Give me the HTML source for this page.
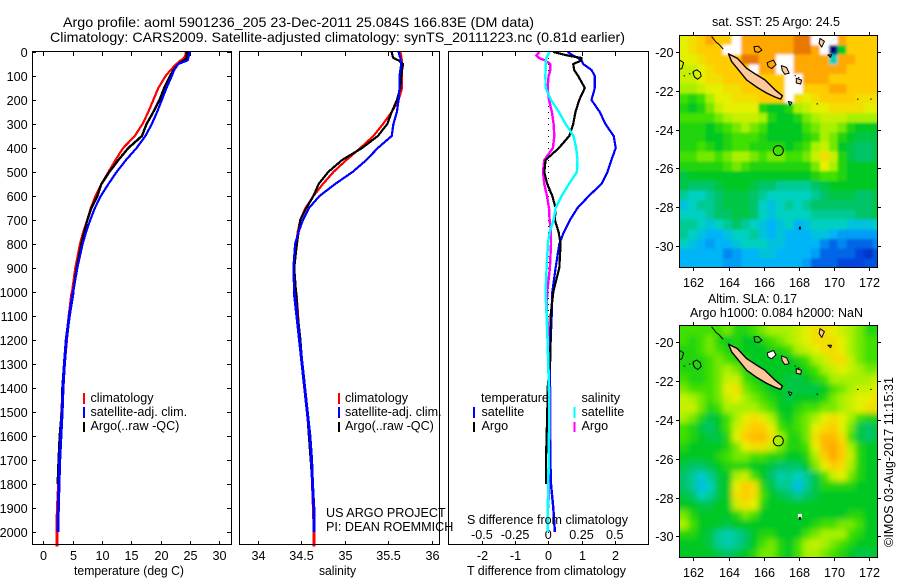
<!DOCTYPE html>
<html lang="en">
<head>
<meta charset="utf-8">
<title>Argo profile 5901236_205</title>
<style>
html,body{margin:0;padding:0;background:#fff;width:900px;height:580px;overflow:hidden}
svg{display:block;position:absolute;left:0;top:0}
text{font-family:"Liberation Sans",Arial,sans-serif;font-size:12.6px;fill:#000}
.title{font-size:14px}
.frame{fill:none;stroke:#000;stroke-width:1;shape-rendering:crispEdges}
.tick{stroke:#000;stroke-width:1;shape-rendering:crispEdges}
.prof{fill:none;stroke-linejoin:round;shape-rendering:crispEdges}
</style>
</head>
<body>
<svg id="chart" width="900" height="580" viewBox="0 0 900 580" xmlns="http://www.w3.org/2000/svg">
  <defs>
    <clipPath id="clip-sst"><rect x="679.5" y="35.5" width="198" height="232"/></clipPath>
    <clipPath id="clip-sla"><rect x="679.5" y="325.5" width="198" height="232"/></clipPath>
    <filter id="blur-sst" x="-10%" y="-10%" width="120%" height="120%"><feGaussianBlur stdDeviation="1.3"/></filter>
    <filter id="blur-sla" x="-10%" y="-10%" width="120%" height="120%"><feGaussianBlur stdDeviation="3"/></filter>
  </defs>
  <text class="title" x="63" y="27" textLength="471" lengthAdjust="spacingAndGlyphs">Argo profile: aoml 5901236_205 23-Dec-2011 25.084S 166.83E (DM data)</text>
  <text class="title" x="50" y="42" textLength="575" lengthAdjust="spacingAndGlyphs">Climatology: CARS2009. Satellite-adjusted climatology: synTS_20111223.nc (0.81d earlier)</text>

  <g id="panel-t"></g>
  <g id="panel-s"></g>
  <g id="panel-d"></g>

  <text x="74" y="575" textLength="110" lengthAdjust="spacingAndGlyphs">temperature (deg C)</text>
  <text x="319" y="575" textLength="37" lengthAdjust="spacingAndGlyphs">salinity</text>
  <text x="467" y="575" textLength="159" lengthAdjust="spacingAndGlyphs">T difference from climatology</text>
  <text x="467" y="524" textLength="161" lengthAdjust="spacingAndGlyphs">S difference from climatology</text>
  <text x="326" y="517">US ARGO PROJECT</text>
  <text x="326" y="531">PI: DEAN ROEMMICH</text>

  <g>
    <rect x="83" y="393" width="2" height="11" fill="#f00"/>
    <rect x="83" y="407" width="2" height="11" fill="#00f"/>
    <rect x="83" y="422" width="2" height="10" fill="#000"/>
    <text x="90.5" y="402">climatology</text>
    <text x="90.5" y="416">satellite-adj. clim.</text>
    <text x="90.5" y="430">Argo(..raw -QC)</text>
  </g>
  <g>
    <rect x="338" y="393" width="2" height="11" fill="#f00"/>
    <rect x="338" y="407" width="2" height="11" fill="#00f"/>
    <rect x="338" y="422" width="2" height="10" fill="#000"/>
    <text x="345" y="402">climatology</text>
    <text x="345" y="416">satellite-adj. clim.</text>
    <text x="345" y="430">Argo(..raw -QC)</text>
  </g>
  <g>
    <text x="481" y="402">temperature</text>
    <text x="481.5" y="416">satellite</text>
    <text x="481.5" y="430">Argo</text>
    <text x="581.5" y="402">salinity</text>
    <text x="581.5" y="416">satellite</text>
    <text x="581.5" y="430">Argo</text>
    <rect x="473" y="407" width="2" height="11" fill="#00f"/>
    <rect x="473" y="422" width="2" height="10" fill="#000"/>
    <rect x="573.5" y="407" width="2" height="11" fill="#0ff"/>
    <rect x="573.5" y="422" width="2" height="10" fill="#f0f"/>
  </g>

  <g id="map-sst"></g>
  <g id="map-sla"></g>

  <text x="712" y="26" textLength="128" lengthAdjust="spacingAndGlyphs">sat. SST: 25 Argo: 24.5</text>
  <text x="708" y="303" textLength="89" lengthAdjust="spacingAndGlyphs">Altim. SLA: 0.17</text>
  <text x="690" y="317" textLength="173" lengthAdjust="spacingAndGlyphs">Argo h1000: 0.084 h2000: NaN</text>
  <text transform="translate(893,547) rotate(-90)" textLength="170" lengthAdjust="spacingAndGlyphs">©IMOS 03-Aug-2017 11:15:31</text>
</svg>

<script>
// ---------- profile data ----------
const depths = [0,15,25,35,50,75,100,150,200,250,300,350,400,450,500,550,600,650,700,750,800,900,1000,1100,1200,1300,1400,1500,1600,1700,1800,1900,2000,2060];
const tempClim = [24.3,24.2,24,23.4,22.7,21.7,20.85,19.6,18.75,17.9,16.9,15.6,13.6,12.3,11.1,9.9,8.9,8.1,7.5,6.8,6.25,5.45,4.9,4.4,3.95,3.6,3.35,3.15,2.95,2.75,2.6,2.4,2.3,2.3];
const tempSat = [24.9,24.8,24.7,24.6,23,22.3,21.9,21,20.2,19.4,18.5,17.4,15.9,14.1,12.5,11.1,9.8,8.8,8,7.3,6.7,5.8,5.1,4.43,3.9,3.6,3.35,3.2,3,2.8,2.67,2.55,2.5,null];
const tempArgo = [24.5,24.45,24.4,24,23,22.2,21.6,20.6,19.8,18.75,17.6,16.8,14.5,12.8,11.25,9.9,9.2,8.2,7.5,7,6.5,5.7,5.1,4.45,3.95,3.55,3.25,3.15,2.8,2.6,2.45,null,null,null];
const salClim = [35.64,35.65,35.65,35.66,35.66,35.66,35.66,35.66,35.62,35.54,35.44,35.33,35.18,35.02,34.87,34.75,34.64,34.55,34.49,34.46,34.44,34.42,34.44,34.46,34.48,34.51,34.54,34.57,34.6,34.62,34.63,34.64,34.65,34.65];
const salSat = [35.62,35.63,35.64,35.64,35.65,35.64,35.63,35.63,35.62,35.6,35.56,35.54,35.38,35.25,35.09,34.89,34.71,34.59,34.52,34.47,34.43,34.41,34.42,34.45,34.48,34.51,34.54,34.57,34.6,34.62,34.63,34.645,34.65,null];
const salArgo = [35.54,35.55,35.56,35.62,35.67,35.66,35.65,35.64,35.6,35.54,35.49,35.38,35.2,34.97,34.81,34.7,34.64,34.56,34.49,34.47,34.45,34.42,34.44,34.46,34.49,34.51,34.54,34.57,34.59,34.61,34.63,null,null,null];
const diffTSat = [0.58,0.75,0.9,1,1.05,1.3,1.4,1.4,1.3,1.55,1.72,1.97,2.03,1.9,1.78,1.6,1.22,0.88,0.65,0.47,0.33,0.22,0.12,0.1,0.07,0.05,0.05,0.05,0.05,0.06,0.08,0.15,0.2,null];
const diffTArgo = [0.15,0.6,1,1,0.75,0.78,0.9,1.1,0.93,0.82,0.75,0.63,0.32,-0.08,-0.12,-0.03,0.12,0.22,0.2,0.31,0.37,0.33,0.15,0.07,0.07,0.05,-0.02,-0.03,-0.05,-0.07,-0.07,null,null,null];
const diffSSat = [0.008,-0.005,-0.015,-0.018,-0.02,-0.02,-0.022,-0.02,0.02,0.08,0.13,0.19,0.21,0.22,0.215,0.155,0.1,0.055,0.04,0.01,-0.003,-0.013,-0.02,-0.012,-0.005,0,0.005,0.008,0.005,0.003,0,-0.003,-0.003,null];
const diffSArgo = [-0.068,-0.09,-0.07,-0.025,0.015,0.015,0.002,-0.005,0.005,0.027,0.04,0.045,0.035,-0.03,-0.04,-0.03,-0.01,0.005,0.01,0.02,0.02,0.012,-0.008,-0.01,0.01,0,0.015,0.015,0.015,0.01,0.008,0,null,null];

// ---------- tick labels ----------
const depthTicks = [0,100,200,300,400,500,600,700,800,900,1000,1100,1200,1300,1400,1500,1600,1700,1800,1900,2000];
const tempTicks = [0,5,10,15,20,25,30];
const salTicks = [34,34.5,35,35.5,36];
const diffTTicks = [-2,-1,0,1,2];
const diffSTicks = ["-0.5","-0.25","0","0.25","0.5"];
const lonTicks = [162,164,166,168,170,172];
const latTicks = [-20,-22,-24,-26,-28,-30];

// ---------- map data (colour-scale levels; null = no data) ----------
const sstGrid = [
[9,9.5,10,11,10,10,null,11,11,11,11,11,11,12,12,null,null,null,11,10,10,10,10],
[9,9.5,10,10,10,null,null,11,11,11,11,11,11,12,12,11,null,0,6,10,10,10,10],
[9,9,9.5,10,10,10,10,12,12,11,11,null,null,11,11,11,11,4,11,11,10,10,10],
[8.5,8.5,9,9.5,10,10,10,10,null,11,11,null,null,11,11,11,11,11,11,10,10,10,10],
[8.5,8.5,9,9.5,9.5,10,10,10,10,10,10,10,null,null,11,11,11,10,10,10,10,10,10],
[8,8,8.5,9,9,9.5,9.5,10,10,10,10,10,null,null,10,10,10,11,11,10,10,10,10],
[7,6.5,7,8,9,9,9.5,9.5,9.5,10,10,10,null,9.5,9,9.5,10,10,10,10,9.5,9.5,9.5],
[6.5,6,6.5,7.5,8.5,9,9,9,9,6.5,6,6,6.5,8,8.5,9,9,9.5,9.5,9.5,9.5,9,9],
[7,7,7,7,7.5,8,8.5,8.5,8.5,8,6.5,6,6,6.5,7.5,8,8.5,8.5,8.5,8,8,8,8],
[6.5,6.5,6.5,6,6.5,7,7.5,8,7.5,7,6,6,6,6,7,7.5,8,8,7.5,6.5,6,6,6],
[6.5,6.5,6.5,6,6,6.5,7,7,7,6.5,6,6,6,6,6.5,7,8,7.5,6.5,6,5.5,5.5,5.5],
[6.5,6.5,7,6.5,6,6.5,7,7,6.5,6.5,6.5,6.5,6,6.5,7,8,8.5,7.5,6,5.5,5,5,5.5],
[7,7,7.5,7.5,7,7.5,8,8,7.5,7,7.5,7.5,7,7,7.5,8.5,9.5,8.5,6.5,5.5,5,5,5.5],
[6.5,6.5,6.5,6.5,6.5,7,7.5,7,6.5,6.5,6.5,6.5,6.5,6.5,6.5,7.5,9,8,6.5,6,6,6,6],
[5.5,6,6,6,6,6,6,6,6,6,6,6,6,6,6,6.5,7,7,6.5,6,6,6,6],
[5.5,5,5,5,5.5,6,6,6,5.5,5,5,4.5,4.5,4.5,4.5,5,5.5,6,6,6,6,6,6],
[4.5,4,4,4.5,5,5.5,5.5,5.5,5,4.5,4,4,4,4,4,4.5,5,5.5,5.5,5.5,5,5,5.5],
[3.5,4,4.5,4.5,5,5.5,5.5,5.5,5,4,3.5,4,4.5,4,4.5,5,5,5,5,5,5,5,5.5],
[4,4,4,4.5,5,5,5.5,5.5,5,4,3.5,4,4,4,4,4.5,4.5,4.5,4.5,4.5,5,5,5.5],
[4.5,4.5,4,3.5,4,4.5,5,4.5,4,3.5,3,3.5,4,3,3.5,4,4,4,4,3.5,3.5,3.5,4],
[4.5,4,3.5,3,3,3.5,4,4,4.5,3.5,3,3.5,3,3,3,3.5,3.5,3,2.5,2.5,2.5,2.5,2.5],
[4,3.5,3,2.5,3,3,3.5,4,4,4,3.5,3.5,3,3,3,3,2,1.5,2,1.5,1.5,1.5,2],
[3,3,3,3,3,2,2.5,3,3,3.5,3.5,3,3,3,3,2.5,1.5,1.5,1.5,1.5,1,0.8,1.2],
[3,3,3,3,3,2.5,2.5,3,3,3,3,3,3,3,2.5,1.5,1.5,1.5,1,1,1,1.2,1.2]
];
const slaGrid = [
[7,7,7,7,7,7.5,6.5,6.5,7,7.5,8,8,8,8.5,9,9.5,9.5,9,8.5,8,7.5,6.5,6.5],
[7,6.5,7,7.5,6.5,6,6.5,6,6,6.5,7,7.5,8,8.5,9,9.5,9.5,9.5,9,8,7.5,7,7],
[6.5,6.5,7,7.5,7,6.5,6.5,6,6,6,6.5,6.5,7,8,8.5,9,9.5,9.5,9,8,7.5,7,7],
[6.5,6.5,6.5,7,7.5,7,6.5,6.5,6,6,6,6,6,6.5,7,8,8.5,9.5,9.5,8.5,7.5,7,7],
[6.5,6.5,6.5,7,7.5,8,7.5,6.5,6,6,6,6,6,6,6.5,7,8,8.5,9,8.5,8,7.5,7.5],
[7,6.5,6.5,7,7.5,8.5,8.5,7,6.5,6,6,6,5.5,5.5,6,6.5,7,8,8,8,8,8,8.5],
[7.5,7,7,7,7.5,9,9.5,7.5,7,6.5,6,6,5.5,5.5,5.5,5.5,6,7,7.5,8,8.5,8.5,9],
[8.5,8,7.5,7,7.5,8.5,9,8,7.5,7,6.5,6,5.5,6,6,6,6.5,7.5,8,8.5,9,9,9.5],
[8.5,8.5,7.5,6.5,7,8,8,8,8,7.5,7,6,6,6.5,7,7,7.5,7.5,8,8.5,9,9.5,9.5],
[8,7.5,6.5,5.5,6,7,8,9,9.5,9,8,6.5,6,7,7.5,8,9,9.5,9,8,7,6.5,6.5],
[7,6.5,5.5,5,6,7,8.5,9.5,10,10,9,7,6.5,7,7.5,9,9.5,10,9,7.5,5.5,5,5.5],
[7,6.5,6,5.5,5.5,6.5,9,10,10.5,10.5,9.5,8,6.5,6.5,7.5,9.5,10.5,10.5,9.5,7,5.5,5,5.5],
[6.5,6,6,6,6,6.5,7.5,9,9.5,9.5,8.5,7.5,6.5,6.5,7,9,10.5,11,10,8,6.5,6,6],
[6,6,6,6,6.5,7,7.5,7.5,7,7,6.5,6.5,6,6,6.5,8,10,11,10,8.5,6.5,6,6],
[5.5,5,5,5.5,6,6.5,6.5,6.5,6,6,5.5,5,5,5,6,7.5,9,10,9.5,8,6.5,6,6],
[5,4.5,3.7,4.5,5.5,6,8,8.5,7,6,5,4.2,4.5,4,4.5,5.5,7,8.5,9,7.5,6.5,6,6],
[5,4.5,3.3,4,5.5,6,9,10,9.5,6.5,5.5,4.5,4.5,3.3,4.5,5.5,6.5,6.5,6.5,6.5,6,6,6],
[5.5,5,4,4.5,5.5,6,9.5,10,9.5,7,6,5.5,5,4.5,5,5.5,6,6,6,6,6,6,6],
[6,6,5.5,5.5,6,6,8.5,9.5,9,6.5,6,6,6,6,6,6,6,6,6,6,6,6,6],
[7.5,6.5,6,6,6,6,6.5,7.5,7,6,6,6,6,6,6,6,6,6,6,6.5,6.5,6,6],
[8,7,6,6,6,5.5,6,6,6,6,6,6,6,6,6,6.5,7,7,7.5,7.5,7,6,6],
[6.5,6.5,6,5.5,4.5,4.2,4.5,5,6,6.5,6.5,6,6,6,7,7.5,8,8,8,7,6.5,6,6],
[6,6,6,5.5,4.5,4.2,4.5,5,6,7,7.5,6.5,6,7,8,8.5,8,7.5,7,6.5,6,6,6],
[6,6,6,6,5.5,5,5.5,6,6.5,7.5,7.5,6.5,6,7,8,8,7.5,7,6.5,6,5.5,5.5,6]
];
const argoLon = 166.83;
const argoLat = -25.08;
const argoSstLevel = 7;
const argoSlaLevel = 8;
const colourStops = ["#00007f","#0044dd","#0088f0","#00b4f8","#00d0c0","#00c468","#00c820","#40e000","#a8f000","#e4f000","#ffcc00","#ffa800","#e87800"];
const mainIsland = [[164.0,-20.1],[164.5,-20.32],[165.03,-20.84],[165.6,-21.18],[166.07,-21.44],[166.64,-21.95],[167.06,-22.26],[166.96,-22.43],[166.64,-22.32],[166.17,-22.12],[165.6,-21.81],[165.03,-21.44],[164.56,-20.92],[164.18,-20.5]];
const peachIslands = [
 [[167,-20.7],[167.3,-20.8],[167.45,-21.1],[167.2,-21.15],[167.05,-20.95]],
 [[167.85,-21.35],[168.15,-21.45],[168.1,-21.65],[167.85,-21.6]],
 [[169.2,-19.3],[169.45,-19.45],[169.3,-19.75],[169.15,-19.55]],
 [[167.4,-22.55],[167.6,-22.6],[167.5,-22.75]]
];
const outlineIslands = [
 [[162,-21],[162.2,-20.92],[162.4,-21.05],[162.45,-21.25],[162.25,-21.4],[162.08,-21.3],[162,-21.15]],
 [[165.45,-19.72],[165.7,-19.7],[165.9,-19.9],[165.7,-20.02],[165.5,-19.98]],
 [[166.2,-20.55],[166.55,-20.42],[166.7,-20.65],[166.45,-20.85],[166.25,-20.75]],
 [[161.2,-20.4],[161.45,-20.55],[161.35,-20.85],[161.2,-20.9]],
 [[169.65,-20.15],[169.85,-20.15],[169.8,-20.28]]
];
const reefLine = [[163.04,-19.2],[163.3,-19.5],[163.45,-19.6],[163.7,-19.85]];
const reefDots = [[161.45,-21.2],[161.75,-21.1],[161.95,-21.05],[167.75,-21.2],[167.95,-21.3],[170.95,-19.1],[171.3,-22.4],[172.05,-22.4],[169.0,-22.65]];

// ---------- axis functions ----------
const NS = 'http://www.w3.org/2000/svg';
function mk(tag, attrs, parent, txt){
  const el = document.createElementNS(NS, tag);
  for (const k in attrs) el.setAttribute(k, attrs[k]);
  if (txt !== undefined) el.textContent = txt;
  parent.appendChild(el);
  return el;
}
const yDepth = d => 52 + 0.24 * d;
const xTemp = t => 43.3 + 5.867 * t;
const xSal = s => 257.7 + 87 * (s - 34);
const xDiffT = v => 548.3 + 33.2 * v;
const xDiffS = v => 548.3 + 132.8 * v;

function segPath(xf, vals, from, to){
  let d = '';
  let first = true;
  vals.forEach((v, i) => {
    if (v === null || depths[i] < from || depths[i] > to) return;
    d += (first ? 'M' : 'L') + xf(v).toFixed(1) + ' ' + yDepth(depths[i]).toFixed(1);
    first = false;
  });
  return d;
}
function drawLine(parent, xf, vals, colour, width, deepWidth, name){
  const upper = mk('path', {d: segPath(xf, vals, 0, 1000), stroke: colour, 'stroke-width': width, class: 'prof'}, parent);
  
  
  const lower = mk('path', {d: segPath(xf, vals, 1000, 3000), stroke: colour, 'stroke-width': deepWidth, class: 'prof'}, parent);
  
  
}
function frame(parent, x, y, w, h){
  const el = mk('rect', {x: x, y: y, width: w, height: h, class: 'frame'}, parent);
  
  
}
function tick(parent, x1, y1, x2, y2){
  const el = mk('line', {x1: x1, y1: y1, x2: x2, y2: y2, class: 'tick'}, parent);
  
  
}
function label(parent, x, y, str, anchor, name){
  const el = mk('text', {x: x, y: y, 'text-anchor': anchor}, parent, str);
  
  
}
function xTicksProfile(parent, vals, xf, labelY){
  vals.forEach(v => {
    const x = Math.round(xf(v)) + 0.5;
    tick(parent, x, 52, x, 56);
    tick(parent, x, 541, x, 545);
    label(parent, x, labelY, String(v), 'middle', 'x-tick-label');
  });
}

// ---------- temperature panel ----------
const pT = document.getElementById('panel-t');
depthTicks.forEach(d => {
  const y = Math.round(yDepth(d)) + 0.5;
  tick(pT, 32, y, 36, y);
  tick(pT, 227, y, 231, y);
  label(pT, 27.7, y + 4.5, String(d), 'end', 'depth-tick-label');
});
xTicksProfile(pT, tempTicks, xTemp, 560);
drawLine(pT, xTemp, tempClim, '#f00', 2.2, 3, 'temperature-climatology-line');
drawLine(pT, xTemp, tempArgo, '#000', 2.4, 2.4, 'temperature-argo-line');
drawLine(pT, xTemp, tempSat, '#00f', 2.2, 3, 'temperature-satellite-line');
frame(pT, 32.5, 51.5, 199, 493);

// ---------- salinity panel ----------
const pS = document.getElementById('panel-s');
xTicksProfile(pS, salTicks, xSal, 560);
drawLine(pS, xSal, salClim, '#f00', 2.2, 3, 'salinity-climatology-line');
drawLine(pS, xSal, salArgo, '#000', 2.2, 2.4, 'salinity-argo-line');
drawLine(pS, xSal, salSat, '#00f', 2.2, 3, 'salinity-satellite-line');
frame(pS, 239.5, 51.5, 200, 493);

// ---------- difference panel ----------
const pD = document.getElementById('panel-d');
const zero = mk('line', {x1: 548.5, y1: 52, x2: 548.5, y2: 545, stroke: '#000', 'stroke-width': 1, 'stroke-dasharray': '1 5', 'shape-rendering': 'crispEdges'}, pD);


diffTTicks.forEach(v => {
  const x = Math.round(xDiffT(v)) + 0.5;
  tick(pD, x, 52, x, 56);
  tick(pD, x, 541, x, 545);
  label(pD, x, 560, String(v), 'middle', 't-difference-tick-label');
});
diffTTicks.forEach((v, i) => {
  label(pD, xDiffT(v), 539, diffSTicks[i], 'middle', 's-difference-tick-label');
});
drawLine(pD, xDiffS, diffSArgo, '#f0f', 2.4, 2.2, 's-difference-argo-line');
drawLine(pD, xDiffT, diffTSat, '#00f', 2.2, 2.4, 't-difference-satellite-line');
drawLine(pD, xDiffT, diffTArgo, '#000', 2.2, 2.2, 't-difference-argo-line');
drawLine(pD, xDiffS, diffSSat, '#0ff', 2.4, 2.6, 's-difference-satellite-line');
frame(pD, 448.5, 51.5, 200, 493);

// ---------- maps ----------
function levelColour(v){
  const lo = Math.max(0, Math.min(colourStops.length - 1, Math.floor(v)));
  const hi = Math.min(colourStops.length - 1, lo + 1);
  const f = Math.max(0, Math.min(1, v - lo));
  const a = parseInt(colourStops[lo].slice(1), 16);
  const b = parseInt(colourStops[hi].slice(1), 16);
  const mix = s => Math.round(((a >> s) & 255) * (1 - f) + ((b >> s) & 255) * f);
  return 'rgb(' + mix(16) + ',' + mix(8) + ',' + mix(0) + ')';
}
function drawMap(id, clip, blur, grid, yMinus20, top, argoLevel, namePrefix, whiteAtoll, whiteSpeck){
  const root = document.getElementById(id);
  const xLon = lon => 693.3 + 17.6 * (lon - 162);
  const yLat = lat => yMinus20 + 19.4 * (-20 - lat);
  const g0 = mk('g', {'clip-path': 'url(#' + clip + ')'}, root);
  
  
  const g = mk('g', {filter: 'url(#' + blur + ')', 'shape-rendering': 'crispEdges'}, g0);
  
  
  const lastRow = grid.length - 1;
  grid.forEach((row, j) => {
    const lastCol = row.length - 1;
    row.forEach((v, i) => {
      const lonA = 161.2 + 0.5 * i;
      const latA = -19.14 - 0.5 * j;
      // edge cells overhang the clip so the smoothing does not fade to white at the frame
      const padL = i === 0 ? 12 : 0;
      const padR = i === lastCol ? 12 : 0;
      const padT = j === 0 ? 12 : 0;
      const padB = j === lastRow ? 12 : 0;
      const x0 = xLon(lonA) - padL;
      const y0 = yLat(latA) - padT;
      const cell = mk('rect', {x: x0.toFixed(1), y: y0.toFixed(1), width: (9.3 + padL + padR).toFixed(1), height: (10.2 + padT + padB).toFixed(1), fill: v === null ? '#fff' : levelColour(v)}, g);
      
      
    });
  });
  const c = mk('g', {'clip-path': 'url(#' + clip + ')', 'stroke-linejoin': 'round'}, root);
  
  
  const pts = poly => poly.map(p => xLon(p[0]).toFixed(1) + ',' + yLat(p[1]).toFixed(1)).join(' ');
  const isl = mk('polygon', {points: pts(mainIsland), fill: '#ffc89c', stroke: '#000', 'stroke-width': 1.4}, c);
  
  
  peachIslands.forEach(poly => {
    const el = mk('polygon', {points: pts(poly), fill: '#ffc89c', stroke: '#000', 'stroke-width': 1}, c);
    
    
  });
  outlineIslands.forEach((poly, k) => {
    const el = mk('polygon', {points: pts(poly), fill: (whiteAtoll && k === 2) ? '#fff' : 'none', stroke: '#000', 'stroke-width': 1}, c);
    
    
  });
  const reef = mk('polyline', {points: pts(reefLine), fill: 'none', stroke: '#000', 'stroke-width': 1}, c);
  
  
  reefDots.forEach(p => {
    const dot = mk('rect', {x: xLon(p[0]).toFixed(1), y: yLat(p[1]).toFixed(1), width: 1.5, height: 1, fill: '#000'}, c);
    
    
  });
  const marker = mk('circle', {cx: xLon(argoLon).toFixed(1), cy: yLat(argoLat).toFixed(1), r: 5, fill: levelColour(argoLevel), stroke: '#000', 'stroke-width': 1}, root);
  
  
  if (whiteSpeck) {
    const w = mk('rect', {x: (xLon(168) - 1).toFixed(1), y: (yLat(-29) - 3).toFixed(1), width: 4, height: 4, fill: '#fff'}, root);
    
    
  }
  const speck = mk('rect', {x: xLon(168).toFixed(1), y: yLat(-29).toFixed(1), width: 2, height: 3, fill: '#000'}, root);
  
  
  frame(root, 679.5, top + 0.5, 198, 232);
  lonTicks.forEach(lon => {
    const x = Math.round(xLon(lon)) + 0.5;
    tick(root, x, top - 3, x, top);
    tick(root, x, top + 232, x, top + 236);
    label(root, x, top + 252, String(lon), 'middle', 'longitude-tick-label');
  });
  latTicks.forEach(lat => {
    const y = Math.round(yLat(lat)) + 0.5;
    tick(root, 676, y, 679, y);
    tick(root, 878, y, 881, y);
    label(root, 673.5, y + 4.5, String(lat), 'end', 'latitude-tick-label');
  });
}
drawMap('map-sst', 'clip-sst', 'blur-sst', sstGrid, 52, 35, argoSstLevel, 'sst', false, false);
drawMap('map-sla', 'clip-sla', 'blur-sla', slaGrid, 342.3, 325, argoSlaLevel, 'sla', true, true);
</script>
</body>
</html>
